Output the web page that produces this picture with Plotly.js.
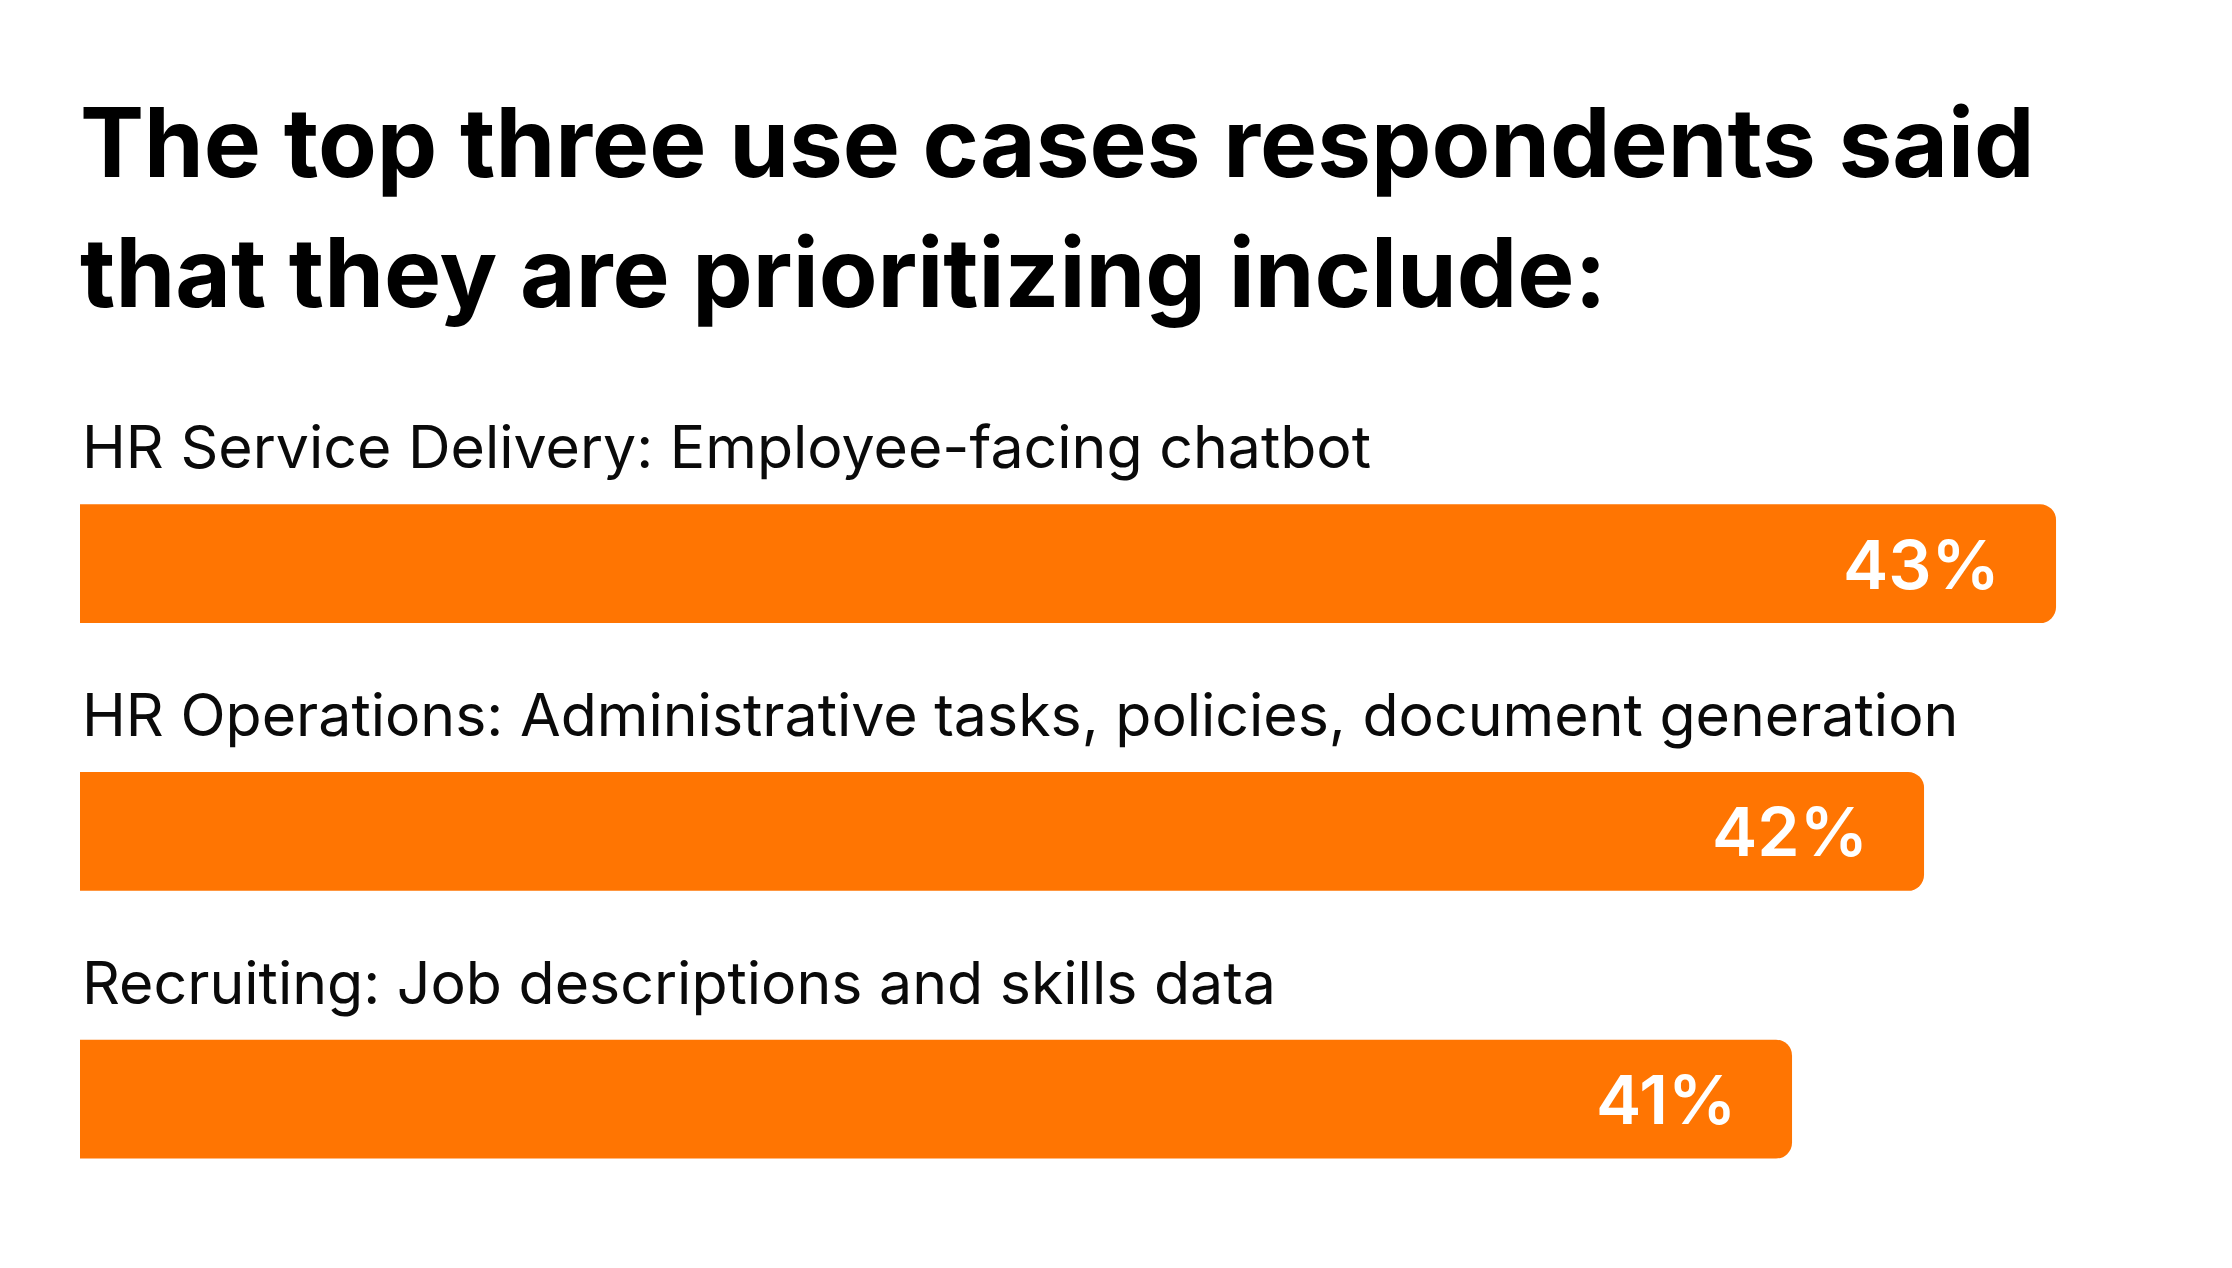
<!DOCTYPE html>
<html>
<head>
<meta charset="utf-8">
<script src="https://cdn.plot.ly/plotly-3.0.1.min.js"></script>
<style>
html,body{margin:0;padding:0;background:#fff;}
#chart{width:2232px;height:1268px;}
</style>
</head>
<body>
<div id="chart"></div>
<script>
const titleLines = ["The top three use cases respondents said", "that they are prioritizing include:"];
const categories = [
  "HR Service Delivery: Employee-facing chatbot",
  "HR Operations: Administrative tasks, policies, document generation",
  "Recruiting: Job descriptions and skills data"
];
const values = [43, 42, 41];
const valueLabels = ["43%", "42%", "41%"];

const ORANGE = "#FF7502";
const FONT = "Inter, 'Noto Sans', sans-serif";

const trace = {
  type: "bar",
  orientation: "h",
  x: values,
  y: categories,
  marker: {color: ORANGE, cornerradius: 16, line: {width: 0}},
  hoverinfo: "skip",
  showlegend: false
};

const annotations = [];
const titleY = [1.0191, 0.8969];
titleLines.forEach((t, i) => {
  annotations.push({
    xref: "paper", x: 0, yref: "paper", y: titleY[i],
    xanchor: "left", yanchor: "middle", xshift: -2,
    text: t, showarrow: false,
    font: {family: FONT, size: 96, color: "#000000", weight: 700}
  });
});
categories.forEach((c, i) => {
  annotations.push({
    xref: "paper", x: 0, yref: "y", y: c,
    xanchor: "left", yanchor: "middle",
    yshift: 117, text: c, showarrow: false,
    font: {family: FONT, size: 59, color: "#0a0a0a"}
  });
  annotations.push({
    xref: "x", x: values[i], yref: "y", y: c,
    xanchor: "right", yanchor: "middle",
    xshift: -54, yshift: 0, text: valueLabels[i], showarrow: false,
    font: {family: FONT, size: 68, color: "#ffffff", weight: 600}
  });
});

const layout = {
  width: 2232, height: 1268,
  paper_bgcolor: "#ffffff", plot_bgcolor: "#ffffff",
  margin: {l: 80, r: 40, t: 161.5, b: 34.5},
  xaxis: {range: [28.03, 44.03], visible: false, fixedrange: true},
  yaxis: {
    type: "category", categoryorder: "array", categoryarray: categories,
    range: [2.5, -1.5], visible: false, fixedrange: true
  },
  bargap: 0.556,
  annotations: annotations
};

Plotly.newPlot("chart", [trace], layout, {displayModeBar: false, staticPlot: true});
</script>
</body>
</html>
